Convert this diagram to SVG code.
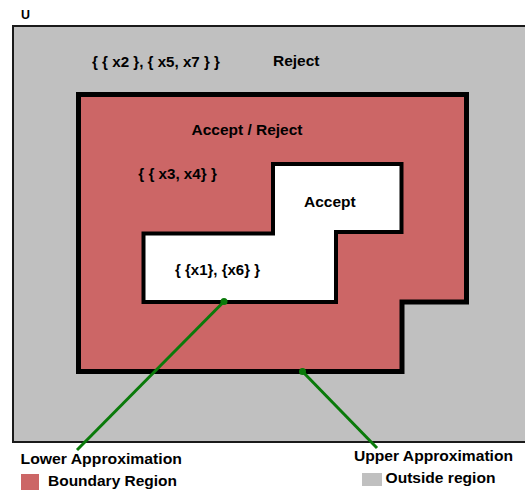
<svg xmlns="http://www.w3.org/2000/svg" width="525" height="492" viewBox="0 0 525 492">
<style>
text{font-family:"Liberation Sans",Arial,sans-serif;font-weight:bold;fill:#000;font-size:15px}
.sm{font-size:14px}
.link{stroke:#0a7a0a;stroke-width:3;fill:none}
.dot{fill:#0a7a0a}
</style>
<rect width="525" height="492" fill="#fff"/>
<g id="universe">
<rect x="13" y="26" width="520" height="416" fill="#c0c0c0" stroke="#1a1a1a" stroke-width="2"/>
<text x="21" y="19" style="font-size:13px" textLength="9" lengthAdjust="spacingAndGlyphs">U</text>
<text x="92" y="67" class="sm" textLength="128" lengthAdjust="spacingAndGlyphs">{ { x2 }, { x5, x7 } }</text>
<text x="273" y="66" textLength="46.5" lengthAdjust="spacingAndGlyphs">Reject</text>
</g>
<g id="upper">
<polygon points="78.5,94.5 466.5,94.5 466.5,302 402,302 402,371.5 78.5,371.5" fill="#cc6666" stroke="#000" stroke-width="5"/>
<text x="191.5" y="135" textLength="111" lengthAdjust="spacingAndGlyphs">Accept / Reject</text>
<text x="138.3" y="179" class="sm" textLength="78.5" lengthAdjust="spacingAndGlyphs">{ { x3, x4} }</text>
</g>
<g id="lower">
<polygon points="273,164 401.5,164 401.5,232 336,232 336,302 143.5,302 143.5,233.5 273,233.5" fill="#fff" stroke="#000" stroke-width="4"/>
<text x="304" y="207" textLength="51.7" lengthAdjust="spacingAndGlyphs">Accept</text>
<text x="175" y="275" class="sm" textLength="85" lengthAdjust="spacingAndGlyphs">{ {x1}, {x6} }</text>
</g>
<g id="connectors">
<line class="link" x1="224" y1="301.5" x2="77" y2="450"/>
<circle class="dot" cx="224" cy="301.5" r="3.5"/>
<line class="link" x1="302.5" y1="371.5" x2="377" y2="448"/>
<circle class="dot" cx="302.5" cy="371.5" r="3.5"/>
</g>
<g id="legend">
<text x="20.5" y="464" textLength="161.5" lengthAdjust="spacingAndGlyphs">Lower Approximation</text>
<rect x="21" y="474" width="18" height="16" fill="#cc6666"/>
<text x="48" y="486" textLength="129" lengthAdjust="spacingAndGlyphs">Boundary Region</text>
<text x="354" y="461" textLength="159" lengthAdjust="spacingAndGlyphs">Upper Approximation</text>
<rect x="362" y="473" width="20" height="13" fill="#c0c0c0"/>
<text x="385.5" y="483" textLength="110" lengthAdjust="spacingAndGlyphs">Outside region</text>
</g>
</svg>
